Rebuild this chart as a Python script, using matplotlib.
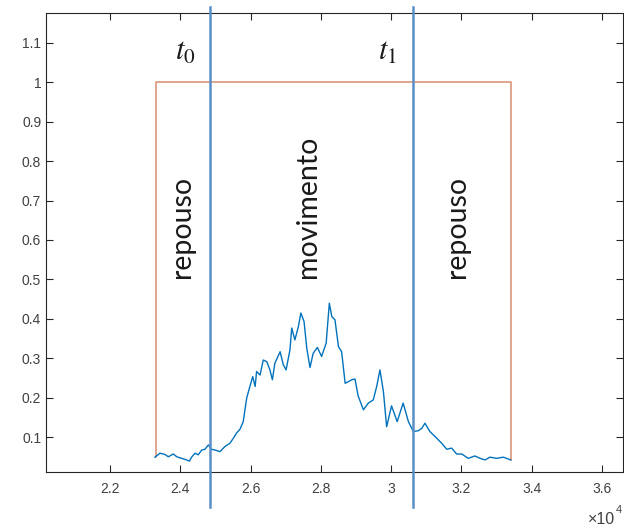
import matplotlib
matplotlib.use("Agg")
import matplotlib.pyplot as plt
from matplotlib.ticker import FuncFormatter, FixedLocator

plt.rcParams["mathtext.fontset"] = "stix"

# ---- data (x in units of 1e4) ----
sig_x = [2.328, 2.342, 2.356, 2.366, 2.380, 2.390, 2.404, 2.418, 2.426, 2.432,
         2.442, 2.451, 2.461, 2.470, 2.480, 2.489, 2.499, 2.513, 2.527, 2.541,
         2.551, 2.560, 2.570, 2.579, 2.589, 2.598, 2.606, 2.613, 2.617, 2.627,
         2.636, 2.646, 2.655, 2.662, 2.669, 2.684, 2.693, 2.701, 2.712, 2.717,
         2.726, 2.736, 2.743, 2.752, 2.760, 2.769, 2.778, 2.790, 2.802, 2.815,
         2.824, 2.831, 2.840, 2.850, 2.859, 2.869, 2.888, 2.897, 2.906, 2.921,
         2.935, 2.949, 2.959, 2.968, 2.978, 2.987, 3.001, 3.017, 3.034, 3.049,
         3.063, 3.077, 3.087, 3.096, 3.110, 3.125, 3.144, 3.158, 3.172, 3.186,
         3.201, 3.219, 3.238, 3.253, 3.267, 3.281, 3.300, 3.319, 3.340]
sig_y = [0.050, 0.060, 0.057, 0.051, 0.058, 0.051, 0.047, 0.043, 0.040, 0.050,
         0.060, 0.056, 0.068, 0.070, 0.081, 0.070, 0.068, 0.064, 0.077, 0.085,
         0.098, 0.111, 0.121, 0.140, 0.200, 0.229, 0.254, 0.229, 0.267, 0.258,
         0.296, 0.292, 0.271, 0.246, 0.288, 0.317, 0.284, 0.271, 0.322, 0.377,
         0.347, 0.381, 0.415, 0.394, 0.325, 0.277, 0.313, 0.328, 0.305, 0.339,
         0.440, 0.406, 0.398, 0.330, 0.317, 0.237, 0.246, 0.248, 0.205, 0.170,
         0.187, 0.195, 0.230, 0.271, 0.215, 0.127, 0.180, 0.140, 0.187, 0.140,
         0.115, 0.117, 0.123, 0.136, 0.115, 0.102, 0.085, 0.070, 0.073, 0.058,
         0.058, 0.047, 0.053, 0.047, 0.043, 0.050, 0.047, 0.050, 0.043]

win_x = [2.33, 2.33, 3.34, 3.34]
win_y = [0.050, 1.0, 1.0, 0.043]

t_marks = [2.484, 3.063]
t_labels = [r"$t_0$", r"$t_1$"]
t_label_x = [2.385, 2.962]

phase_labels = ["repouso", "movimento", "repouso"]
phase_x = [2.405, 2.763, 3.187]

xticks = [2.2, 2.4, 2.6, 2.8, 3.0, 3.2, 3.4, 3.6]
yticks = [0.1, 0.2, 0.3, 0.4, 0.5, 0.6, 0.7, 0.8, 0.9, 1.0, 1.1]
SCALE = 1e4

fig = plt.figure(figsize=(6.24, 5.29), dpi=100)
ax = fig.add_axes([0.0737, 0.1078, 0.9247, 0.8677])

ax.plot([v * SCALE for v in sig_x], sig_y, color="#0072BD", lw=1.0, zorder=3)
ax.plot([v * SCALE for v in win_x], win_y, color="#D9967A", lw=1.2, zorder=2)

ax.set_xlim(20179, 36595)
ax.set_ylim(0.0125, 1.175)

for xv in t_marks:
    ax.plot([xv * SCALE, xv * SCALE], [-0.076, 1.19], color="#5B8FC8", lw=1.8,
            clip_on=False, zorder=4)

for lab, xv in zip(t_labels, t_label_x):
    ax.text(xv * SCALE, 1.057, lab, ha="left", va="baseline",
            color="#1a1a1a", fontsize=22)

for lab, xv in zip(phase_labels, phase_x):
    ax.text(xv * SCALE, 0.504, lab, rotation=90, ha="center", va="bottom",
            fontsize=20.5, family="Lato", color="#1a1a1a")

ax.xaxis.set_major_locator(FixedLocator([v * SCALE for v in xticks]))
ax.xaxis.set_major_formatter(FuncFormatter(lambda v, p: f"{v / SCALE:g}"))
ax.yaxis.set_major_locator(FixedLocator(yticks))
ax.yaxis.set_major_formatter(FuncFormatter(lambda v, p: f"{v:g}"))

ax.tick_params(direction="in", top=True, right=True, length=5, width=0.8,
               labelsize=10, labelcolor="#404040", color="#262626",
               labelfontfamily="Liberation Sans")
ax.tick_params(axis="x", pad=7)
for s in ax.spines.values():
    s.set_color("#262626")
    s.set_linewidth(0.8)

fig.text(0.985, 0.004, "\u00d710", ha="right", va="bottom",
         fontsize=11.5, color="#404040", family="Liberation Sans")
fig.text(0.987, 0.026, "4", ha="left", va="bottom",
         fontsize=8, color="#404040", family="Liberation Sans")

fig.savefig("out.png", dpi=100)
